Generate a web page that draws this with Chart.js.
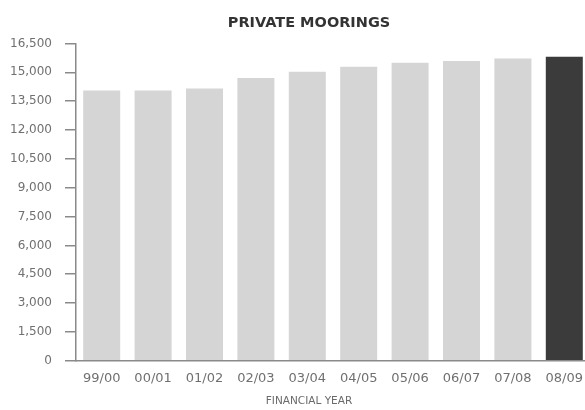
<!DOCTYPE html>
<html>
<head>
<meta charset="utf-8">
<script src="https://cdn.jsdelivr.net/npm/chart.js@4/dist/chart.umd.min.js"></script>
<style>
  html, body { margin: 0; padding: 0; background: #fff; overflow: hidden; }
  #wrap { width: 585px; height: 410px; overflow: hidden; }
</style>
</head>
<body>
<div id="wrap"><canvas id="moorings" width="618" height="410"></canvas></div>
<script>
// financial years and mooring counts
const years = ['99/00', '00/01', '01/02', '02/03', '03/04', '04/05', '05/06', '06/07', '07/08', '08/09'];
const moorings = [14050, 14050, 14150, 14700, 15020, 15280, 15490, 15590, 15710, 15800];
const yMin = 0;
const yMax = 16500;
const yStep = 1500;

// latest year is highlighted dark
const barColors = years.map((y, i) => i === years.length - 1 ? '#3b3b3b' : '#d5d5d5');

const FONT = 'DejaVu Sans';

const ctx = document.getElementById('moorings').getContext('2d');
new Chart(ctx, {
    type: 'bar',
    data: {
        labels: years,
        datasets: [{
            data: moorings,
            backgroundColor: barColors,
            borderWidth: 0,
            categoryPercentage: 1,
            barPercentage: 0.72
        }]
    },
    options: {
        responsive: false,
        animation: false,
        layout: { padding: 0 },
        plugins: {
            legend: { display: false },
            tooltip: { enabled: false },
            title: {
                display: true,
                text: 'PRIVATE MOORINGS',
                color: '#333333',
                font: { family: FONT, size: 14.5, weight: 'bold' },
                padding: { top: 15, bottom: 11 }
            },
            // x axis caption, centred on the page like the heading
            subtitle: {
                display: true,
                position: 'bottom',
                text: 'FINANCIAL YEAR',
                color: '#6a6a6a',
                font: { family: FONT, size: 10.5 },
                padding: { top: 7, bottom: 2 }
            }
        },
        scales: {
            x: {
                grid: { display: false },
                border: { display: true, color: '#8a8a8a', width: 1.5 },
                ticks: {
                    color: '#707070',
                    padding: 2,
                    font: { family: FONT, size: 13 }
                }
            },
            y: {
                min: yMin,
                max: yMax,
                afterFit: scale => { scale.width = 76; },
                grid: { drawOnChartArea: false, drawTicks: true, tickLength: 11, color: '#8a8a8a', lineWidth: 1.5 },
                border: { display: true, color: '#8a8a8a', width: 1.5 },
                ticks: {
                    stepSize: yStep,
                    color: '#707070',
                    padding: 13,
                    font: { family: FONT, size: 12 }
                }
            },
            // blank axis on the right, just keeps the bars off the canvas edge
            gutter: {
                type: 'linear',
                position: 'right',
                afterFit: scale => { scale.width = 28; },
                grid: { display: false },
                border: { display: false },
                ticks: { display: false }
            }
        }
    }
});
</script>
</body>
</html>
